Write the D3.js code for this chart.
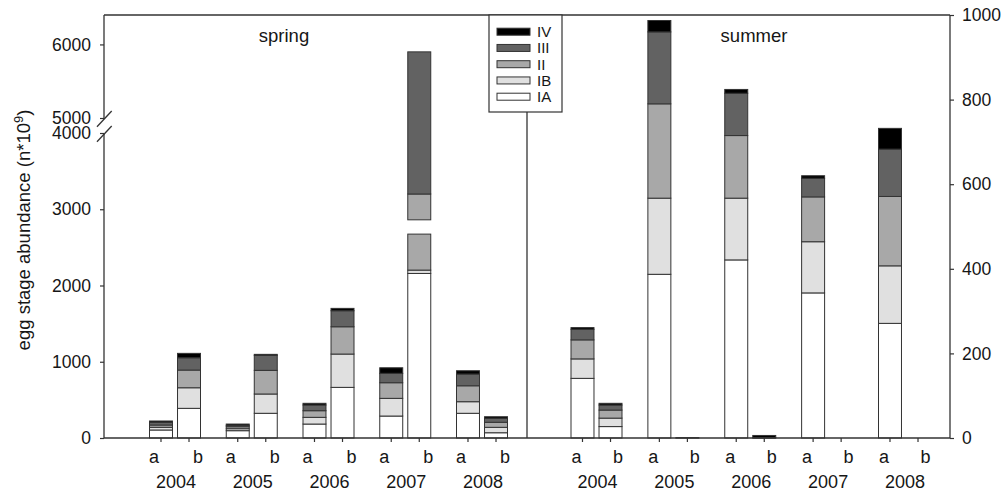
<!DOCTYPE html>
<html>
<head>
<meta charset="utf-8">
<script src="https://cdn.jsdelivr.net/npm/d3@7"></script>
<style>
  body { margin: 0; background: #fff; }
  text { font-family: "Liberation Sans", Arial, sans-serif; fill: #161616; }
</style>
</head>
<body>
<div id="chart"></div>
<script>
// data
var years = ["2004", "2005", "2006", "2007", "2008"];
var samples = ["a", "b"];
var stages = ["IA", "IB", "II", "III", "IV"];

// spring, stage values per year (IA, IB, II, III, IV)
var springA = [[105, 35, 30, 36, 17], [96, 26, 26, 18, 17], [183, 88, 87, 75, 22], [288, 232, 205, 123, 73], [324, 152, 209, 154, 43]];
var springB = [[389, 270, 232, 161, 58], [324, 253, 310, 197, 13], [664, 437, 358, 210, 31], [2158, 44, 1765, 1932, 0], [69, 71, 66, 52, 21]];
// summer
var summerA = [[141, 46, 45, 25, 4], [387, 180, 223, 170, 27], [421, 146, 148, 100, 9], [343, 121, 106, 44, 6], [271, 136, 164, 112, 49]];
var summerB = [[27, 20, 19, 12, 4], [1, 0, 0, 0, 0], [0, 0, 0, 1, 5], [0, 0, 0, 0, 0], [0, 0, 0, 0, 0]];

var leftTicksLow = [0, 1000, 2000, 3000, 4000];
var leftTicksHigh = [5000, 6000];
var rightTicks = [0, 200, 400, 600, 800, 1000];
// part of the tall spring bar that is cut out
var barGap = [2674, 3616];

var stageFill = {IA: "#ffffff", IB: "#e0e0e0", II: "#a8a8a8", III: "#626262", IV: "#000000"};

// Step 1: chart setup
var svg_width = 1008, svg_height = 500;
var topY = 15, baseY = 438;
var leftX = 104, midX = 527, rightX = 950;
var lineCol = "#333";

var svg = d3.select("#chart").append("svg")
  .attr("width", svg_width)
  .attr("height", svg_height);

// Step 2: scales
var yLow = d3.scaleLinear().domain([0, 4000]).range([baseY, 133]);
var yHigh = d3.scaleLinear().domain([5000, 6400]).range([118, topY]);
var ySum = d3.scaleLinear().domain([0, 1000]).range([baseY, topY]);

var xSpring = d3.scalePoint().domain(years).range([175, 482]);
var xSummer = d3.scalePoint().domain(years).range([596.5, 904]);
var xSample = d3.scaleBand().domain(samples).range([-25.5, 25.5]).paddingInner(0.18);

function ySpring(v) {
  return v <= barGap[0] ? yLow(v) : yHigh(Math.max(v, barGap[1]));
}

// build rows and stack them
function rowsFor(season, aVals, bVals) {
  var rows = [];
  years.forEach(function(y, i) {
    [aVals, bVals].forEach(function(vals, j) {
      var r = {season: season, year: y, sample: samples[j]};
      stages.forEach(function(s, k) { r[s] = vals[i][k]; });
      rows.push(r);
    });
  });
  return rows;
}

var stack = d3.stack().keys(stages);
var springSeries = stack(rowsFor("spring", springA, springB));
var summerSeries = stack(rowsFor("summer", summerA, summerB));

// Step 3: bars
function segs(d, season) {
  var v0 = d[0], v1 = d[1];
  if (v1 <= v0) return [];
  if (season == "summer") return [[ySum(v1), ySum(v0)]];
  var out = [];
  if (v1 <= barGap[0] || v0 >= barGap[1]) {
    out.push([ySpring(v1), ySpring(v0)]);
  } else {
    if (v0 < barGap[0]) out.push([ySpring(barGap[0]), ySpring(v0)]);
    if (v1 > barGap[1]) out.push([ySpring(v1), ySpring(barGap[1])]);
  }
  return out;
}

function drawBars(series, season, xYear) {
  var g = svg.append("g").attr("class", season);
  series.forEach(function(layer) {
    layer.forEach(function(d) {
      var x = xYear(d.data.year) + xSample(d.data.sample);
      segs(d, season).forEach(function(s) {
        g.append("rect")
          .attr("x", x)
          .attr("y", s[0])
          .attr("width", xSample.bandwidth())
          .attr("height", Math.max(s[1] - s[0], 0.6))
          .attr("fill", stageFill[layer.key])
          .attr("stroke", lineCol)
          .attr("stroke-width", 1);
      });
    });
  });
}

drawBars(springSeries, "spring", xSpring);
drawBars(summerSeries, "summer", xSummer);

// Step 4: frame and axes
var frame = svg.append("g").attr("stroke", lineCol).attr("stroke-width", 1.3).attr("fill", "none");
frame.append("line").attr("x1", leftX).attr("x2", rightX).attr("y1", topY).attr("y2", topY);
frame.append("line").attr("x1", leftX).attr("x2", rightX).attr("y1", baseY).attr("y2", baseY);
frame.append("line").attr("x1", midX).attr("x2", midX).attr("y1", topY).attr("y2", baseY);
frame.append("line").attr("x1", rightX).attr("x2", rightX).attr("y1", topY).attr("y2", baseY);
// left axis with break
frame.append("line").attr("x1", leftX).attr("x2", leftX).attr("y1", topY).attr("y2", 119);
frame.append("line").attr("x1", leftX).attr("x2", leftX).attr("y1", 134).attr("y2", baseY);
frame.append("line").attr("x1", 97).attr("y1", 126.7).attr("x2", 111.7).attr("y2", 111);
frame.append("line").attr("x1", 97).attr("y1", 141.7).attr("x2", 111.7).attr("y2", 126);

function styleAxis(g) {
  g.attr("font-family", null).attr("font-size", null);
  g.select(".domain").remove();
  g.selectAll("line").attr("stroke", lineCol).attr("stroke-width", 1.2);
  g.selectAll("text").attr("font-size", 17.5).attr("fill", "#161616");
}

svg.append("g")
  .attr("transform", "translate(" + leftX + ",0)")
  .call(d3.axisLeft(yLow).tickValues(leftTicksLow).tickSize(4).tickPadding(9).tickFormat(d3.format("d")))
  .call(styleAxis);
svg.append("g")
  .attr("transform", "translate(" + leftX + ",0)")
  .call(d3.axisLeft(yHigh).tickValues(leftTicksHigh).tickSize(4).tickPadding(9).tickFormat(d3.format("d")))
  .call(styleAxis);
svg.append("g")
  .attr("transform", "translate(" + rightX + ",0)")
  .call(d3.axisRight(ySum).tickValues(rightTicks).tickSize(4).tickPadding(8).tickFormat(d3.format("d")))
  .call(styleAxis);

// x ticks and labels
function xLabels(xYear, offA, offB) {
  var g = svg.append("g");
  years.forEach(function(y) {
    samples.forEach(function(s) {
      var cx = xYear(y) + xSample(s) + xSample.bandwidth() / 2;
      g.append("line").attr("x1", cx).attr("x2", cx).attr("y1", baseY).attr("y2", baseY + 4)
        .attr("stroke", lineCol).attr("stroke-width", 1.2);
      g.append("text")
        .attr("x", xYear(y) + (s == "a" ? offA : offB))
        .attr("y", 463)
        .attr("text-anchor", "middle")
        .attr("font-size", 18)
        .text(s);
    });
    g.append("text")
      .attr("x", xYear(y) + 1)
      .attr("y", 488)
      .attr("text-anchor", "middle")
      .attr("font-size", 18)
      .text(y);
  });
}
xLabels(xSpring, -21, 23);
xLabels(xSummer, -20, 21.5);

// season titles
svg.append("text").attr("x", 284).attr("y", 42).attr("text-anchor", "middle").attr("font-size", 18.5).text("spring");
svg.append("text").attr("x", 754).attr("y", 42).attr("text-anchor", "middle").attr("font-size", 18.5).text("summer");

// y axis title
var yt = svg.append("text")
  .attr("transform", "translate(30,230) rotate(-90)")
  .attr("text-anchor", "middle")
  .attr("font-size", 18.5);
yt.append("tspan").text("egg stage abundance (n*10");
yt.append("tspan").attr("dy", -7).attr("font-size", 13).text("9");
yt.append("tspan").attr("dy", 7).text(")");

// Step 5: legend
var legend = svg.append("g");
legend.append("rect")
  .attr("x", 489).attr("y", topY).attr("width", 73).attr("height", 97)
  .attr("fill", "#fff").attr("stroke", lineCol).attr("stroke-width", 1.2);
stages.slice().reverse().forEach(function(s, i) {
  var cy = 31.7 + i * 16.25;
  legend.append("rect")
    .attr("x", 497).attr("y", cy - 3.5).attr("width", 33).attr("height", 7)
    .attr("fill", stageFill[s]).attr("stroke", lineCol).attr("stroke-width", 1);
  legend.append("text")
    .attr("x", 537).attr("y", cy)
    .attr("dy", "0.36em")
    .attr("font-size", 15)
    .text(s);
});
</script>
</body>
</html>
